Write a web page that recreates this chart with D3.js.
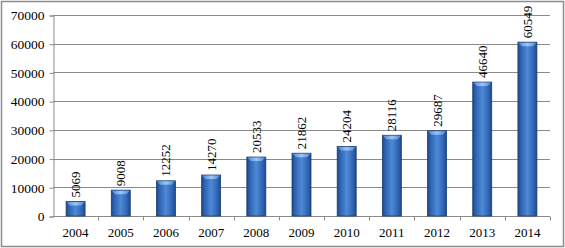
<!DOCTYPE html>
<html>
<head>
<meta charset="utf-8">
<script src="https://cdn.jsdelivr.net/npm/d3@7"></script>
<style>
  body { margin: 0; background: #fff; }
  svg text { font-family: "Liberation Serif", "Times New Roman", serif; fill: #000; }
</style>
</head>
<body>
<svg id="chart"></svg>
<script>
const years = ["2004", "2005", "2006", "2007", "2008", "2009", "2010", "2011", "2012", "2013", "2014"];
const values = [5069, 9008, 12252, 14270, 20533, 21862, 24204, 28116, 29687, 46640, 60549];
const yTicks = [0, 10000, 20000, 30000, 40000, 50000, 60000, 70000];

let width = 565,
    height = 248,
    svg = d3.select("#chart").attr("width", width).attr("height", height);

const margin = {left: 53, right: 15, top: 15, bottom: 32};

// outer frame
svg.append("rect")
    .attr("x", 1.5).attr("y", 1.5)
    .attr("width", width - 3).attr("height", height - 3)
    .attr("fill", "#fff")
    .attr("stroke", "#8c8c8c")
    .attr("stroke-width", 1.5);

let x = d3.scaleBand()
    .domain(years)
    .range([margin.left, width - margin.right])
    .paddingInner(0.58)
    .paddingOuter(0.29);

let y = d3.scaleLinear()
    .domain([0, 70000])
    .range([height - margin.bottom, margin.top]);

// bar gradients
const defs = svg.append("defs");
defs.append("linearGradient")
    .attr("id", "barGrad")
    .attr("x1", "0%").attr("x2", "100%").attr("y1", "0%").attr("y2", "0%")
    .selectAll("stop")
    .data([
        {offset: "0%", color: "#1d4786"},
        {offset: "15%", color: "#2e62b0"},
        {offset: "50%", color: "#4d8ad8"},
        {offset: "85%", color: "#2e62b0"},
        {offset: "100%", color: "#1d4786"}
    ])
    .enter().append("stop")
    .attr("offset", d => d.offset)
    .attr("stop-color", d => d.color);

defs.append("linearGradient")
    .attr("id", "capGrad")
    .attr("x1", "0%").attr("x2", "100%").attr("y1", "0%").attr("y2", "0%")
    .selectAll("stop")
    .data([
        {offset: "0%", color: "#4f87d0"},
        {offset: "50%", color: "#9cc6f5"},
        {offset: "100%", color: "#4f87d0"}
    ])
    .enter().append("stop")
    .attr("offset", d => d.offset)
    .attr("stop-color", d => d.color);

// gridlines
svg.append("g")
    .selectAll("line")
    .data(yTicks.filter(d => d > 0))
    .enter().append("line")
    .attr("x1", margin.left)
    .attr("x2", width - margin.right)
    .attr("y1", d => Math.round(y(d)) + 0.5)
    .attr("y2", d => Math.round(y(d)) + 0.5)
    .attr("stroke", "#8a8a8a")
    .attr("stroke-width", 1);

// y axis
const yAxis = svg.append("g")
    .attr("transform", "translate(" + (margin.left + 0.5) + ",0.5)")
    .call(d3.axisLeft(y).tickValues(yTicks).tickSize(4).tickPadding(5).tickFormat(d3.format("d")));
yAxis.selectAll("path, line").attr("stroke", "#8a8a8a");
yAxis.selectAll("text").style("font-size", "13.5px").attr("fill", "#000");

// x axis: ticks between categories
const xBase = Math.round(y(0)) + 0.5;
svg.append("line")
    .attr("x1", margin.left).attr("x2", width - margin.right)
    .attr("y1", xBase).attr("y2", xBase)
    .attr("stroke", "#8a8a8a");
const step = x.step();
svg.append("g")
    .selectAll("line")
    .data(years)
    .enter().append("line")
    .attr("x1", d => Math.round(x(d) + x.bandwidth() + step * 0.29) + 0.5)
    .attr("x2", d => Math.round(x(d) + x.bandwidth() + step * 0.29) + 0.5)
    .attr("y1", xBase).attr("y2", xBase + 4)
    .attr("stroke", "#8a8a8a");

svg.append("g")
    .selectAll("text")
    .data(years)
    .enter().append("text")
    .attr("x", d => x(d) + x.bandwidth() / 2)
    .attr("y", 237)
    .attr("text-anchor", "middle")
    .style("font-size", "13px")
    .text(d => d);

// bars
const bars = svg.append("g")
    .selectAll("g")
    .data(values)
    .enter().append("g");

bars.append("rect")
    .attr("x", (d, i) => x(years[i]))
    .attr("y", d => y(d))
    .attr("width", x.bandwidth())
    .attr("height", d => y(0) - y(d))
    .attr("fill", "url(#barGrad)")
    .attr("stroke", "#1a3e74")
    .attr("stroke-width", 0.8);

bars.append("path")
    .attr("d", (d, i) => {
        const x0 = x(years[i]), w = x.bandwidth(), t = y(d);
        return "M" + (x0 + 0.5) + "," + (t + 0.5) + "L" + (x0 + w - 0.5) + "," + (t + 0.5) +
            "L" + (x0 + w - 4) + "," + (t + 4) + "L" + (x0 + 4) + "," + (t + 4) + "Z";
    })
    .attr("fill", "url(#capGrad)");

// value labels, rotated
bars.append("text")
    .attr("transform", (d, i) => "translate(" + (x(years[i]) + x.bandwidth() / 2 + 4.5) + "," + (y(d) - 4) + ") rotate(-90)")
    .attr("text-anchor", "start")
    .style("font-size", "13px")
    .text(d => d);
</script>
</body>
</html>
